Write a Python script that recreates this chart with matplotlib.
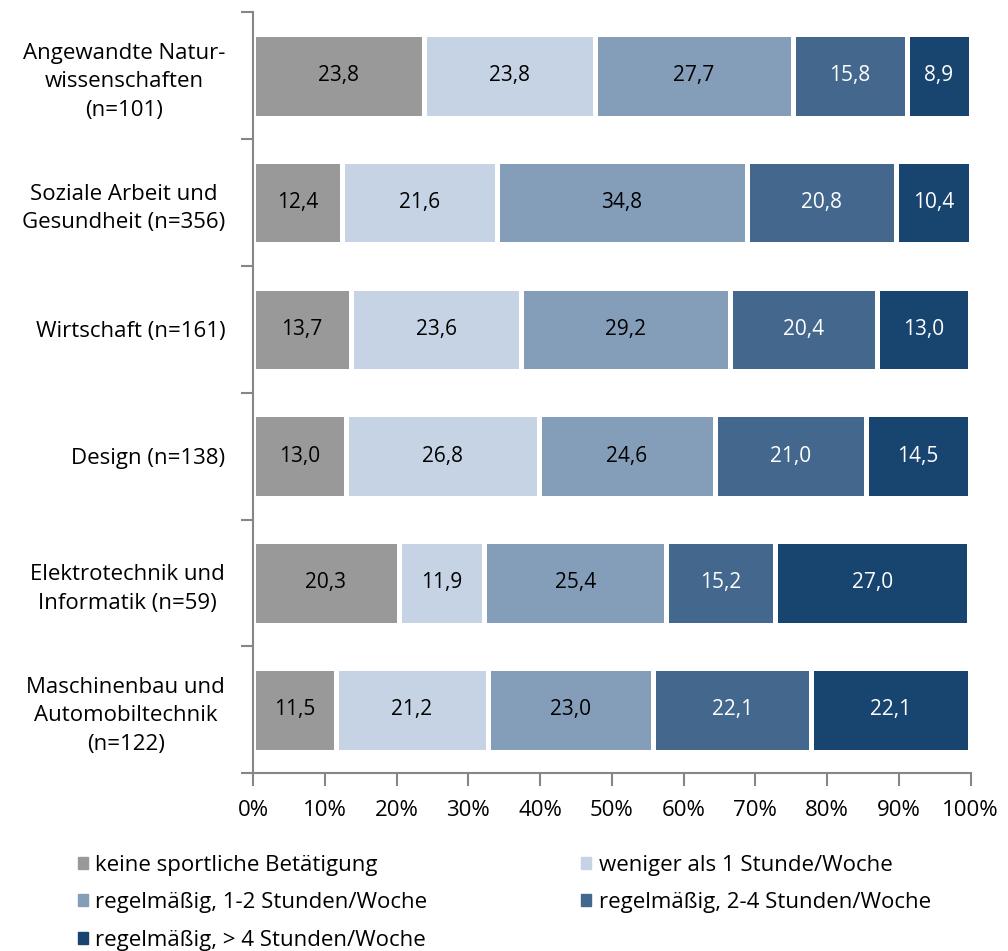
import numpy as np
import matplotlib.pyplot as plt
from matplotlib.patches import Patch

plt.rcParams['font.family'] = ['Open Sans', 'DejaVu Sans']

categories = ['Angewandte Natur-\nwissenschaften\n(n=101)',
              'Soziale Arbeit und\nGesundheit (n=356)',
              'Wirtschaft (n=161)',
              'Design (n=138)',
              'Elektrotechnik und\nInformatik (n=59)',
              'Maschinenbau und\nAutomobiltechnik\n(n=122)']
series = ['keine sportliche Betätigung',
          'weniger als 1 Stunde/Woche',
          'regelmäßig, 1-2 Stunden/Woche',
          'regelmäßig, 2-4 Stunden/Woche',
          'regelmäßig, > 4 Stunden/Woche']
keine = [23.8, 12.4, 13.7, 13.0, 20.3, 11.5]
weniger = [23.8, 21.6, 23.6, 26.8, 11.9, 21.2]
std_1_2 = [27.7, 34.8, 29.2, 24.6, 25.4, 23.0]
std_2_4 = [15.8, 20.8, 20.4, 21.0, 15.2, 22.1]
std_4 = [8.9, 10.4, 13.0, 14.5, 27.0, 22.1]

colors = ['#999999', '#c6d3e4', '#849eba', '#44688d', '#184470']
textcolors = ['black', 'black', 'black', 'white', 'white']
axcolor = '#868686'


def main():
    fig = plt.figure(figsize=(10.08, 9.51), dpi=100)
    ax = fig.add_axes([0.251, 0.187, 0.712, 0.800])

    data = [keine, weniger, std_1_2, std_2_4, std_4]
    y = np.arange(len(categories))
    left = np.zeros(len(categories))
    for vals, col, tcol in zip(data, colors, textcolors):
        vals = np.array(vals)
        ax.barh(y, vals, left=left, height=0.66, color=col,
                edgecolor='white', linewidth=3.6)
        for yi, l, v in zip(y, left, vals):
            ax.text(l + v / 2, yi, ('%.1f' % v).replace('.', ','),
                    ha='center', va='center', color=tcol, fontsize=15)
        left = left + vals

    ax.set_xlim(0, 100)
    ax.set_ylim(len(categories) - 0.5, -0.5)
    ax.set_xticks(np.arange(0, 101, 10))
    ax.set_xticklabels(['%d%%' % t for t in range(0, 101, 10)], fontsize=16)
    ax.set_yticks(y)
    ax.set_yticklabels(categories, fontsize=16, multialignment='center',
                       linespacing=1.45)
    ax.set_yticks(np.arange(-0.5, len(categories)), minor=True)
    ax.tick_params(axis='y', which='major', length=0, pad=20)
    ax.tick_params(axis='y', which='minor', length=9, width=1.5,
                   color=axcolor)
    ax.tick_params(axis='x', length=9, width=1.5, color=axcolor, pad=10)

    ax.spines['top'].set_visible(False)
    ax.spines['right'].set_visible(False)
    ax.spines['left'].set_color(axcolor)
    ax.spines['bottom'].set_color(axcolor)
    ax.spines['left'].set_linewidth(1.5)
    ax.spines['bottom'].set_linewidth(1.5)

    # legend: row-wise order with 2 columns
    handles = [Patch(color=c, label=s) for c, s in zip(colors, series)]
    order = [0, 2, 4, 1, 3]
    fig.legend([handles[i] for i in order], [series[i] for i in order],
               loc='upper left', bbox_to_anchor=(0.066, 0.113), ncol=2,
               frameon=False, fontsize=16, handlelength=0.45,
               handleheight=0.45, handletextpad=0.35, columnspacing=6.9,
               labelspacing=0.74, borderpad=0)

    fig.savefig('out.png', dpi=100)


if __name__ == '__main__':
    main()
